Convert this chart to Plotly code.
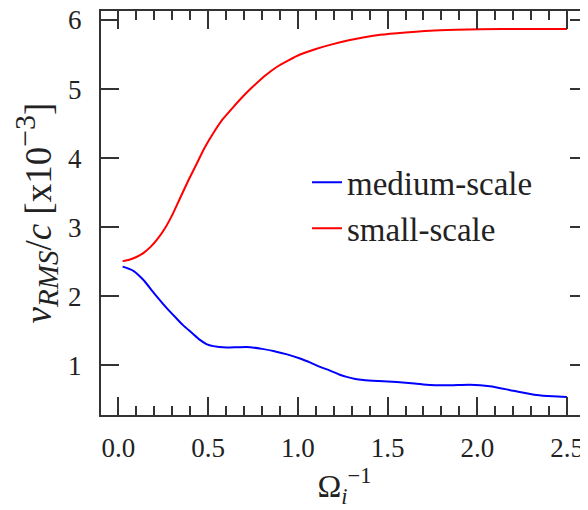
import plotly.graph_objects as go

# Data
x_small = [0.023, 0.06, 0.1, 0.14, 0.18, 0.22, 0.26, 0.30, 0.343, 0.39, 0.436, 0.48, 0.528, 0.58, 0.64, 0.70, 0.751, 0.82, 0.882, 0.95, 1.012, 1.1, 1.179, 1.29, 1.37, 1.458, 1.6, 1.736, 1.88, 2.015, 2.25, 2.5]
y_small = [2.51, 2.53, 2.57, 2.63, 2.72, 2.84, 2.99, 3.18, 3.42, 3.68, 3.92, 4.15, 4.36, 4.56, 4.74, 4.91, 5.04, 5.20, 5.32, 5.42, 5.50, 5.58, 5.64, 5.71, 5.75, 5.785, 5.82, 5.845, 5.858, 5.865, 5.87, 5.87]

x_medium = [0.023, 0.083, 0.138, 0.2, 0.269, 0.32, 0.361, 0.41, 0.454, 0.49, 0.528, 0.603, 0.67, 0.733, 0.80, 0.863, 0.94, 1.012, 1.07, 1.123, 1.179, 1.23, 1.272, 1.32, 1.365, 1.45, 1.551, 1.65, 1.736, 1.85, 1.959, 2.07, 2.2, 2.33, 2.42, 2.5]
y_medium = [2.43, 2.37, 2.24, 2.04, 1.83, 1.69, 1.58, 1.47, 1.37, 1.31, 1.28, 1.26, 1.265, 1.265, 1.24, 1.21, 1.16, 1.10, 1.04, 0.98, 0.925, 0.87, 0.835, 0.805, 0.79, 0.775, 0.76, 0.74, 0.718, 0.715, 0.722, 0.70, 0.635, 0.572, 0.553, 0.545]

x_ticks = [0.0, 0.5, 1.0, 1.5, 2.0, 2.5]
x_ticklabels = ["0.0", "0.5", "1.0", "1.5", "2.0", "2.5"]
y_ticks = [1, 2, 3, 4, 5, 6]

FONT = "Liberation Serif"
AX = "#333333"
TXT = "#222222"

fig = go.Figure()
fig.add_trace(go.Scatter(x=x_medium, y=y_medium, mode="lines", name="medium-scale",
                         line=dict(color="#0000ff", width=2, shape="spline", smoothing=0.6),
                         legendgroup="a"))
fig.add_trace(go.Scatter(x=x_small, y=y_small, mode="lines", name="small-scale",
                         line=dict(color="#ff0000", width=2, shape="spline", smoothing=0.6),
                         legendgroup="b"))

ytitle = ("<i>v</i><sub><span style='font-size:29px'><i>RMS</i></span></sub>"
          "/<i>c</i> [x10<sup><span style='font-size:30px'>−3</span></sup>]")

# page body has an 8px default margin; compensate so the plot lands where the reference has it
fig.update_layout(
    width=580, height=502,
    margin=dict(l=93, r=0, t=3, b=95),
    plot_bgcolor="white", paper_bgcolor="white",
    font=dict(family=FONT, size=27, color=TXT),
    showlegend=True,
    legend=dict(x=0.423, y=0.645, xanchor="left", yanchor="top",
                font=dict(family=FONT, size=33, color=TXT),
                bgcolor="rgba(0,0,0,0)", tracegroupgap=0),
    xaxis=dict(
        range=[-0.0975, 2.617], automargin=False,
        tickmode="array", tickvals=x_ticks, ticktext=x_ticklabels,
        tickfont=dict(family=FONT, size=27, color=TXT),
        ticklabeloverflow="allow",
        ticks="inside", ticklen=18, tickwidth=1.5, tickcolor=AX,
        minor=dict(ticks="inside", dtick=0.1, ticklen=9, tickwidth=1.5, tickcolor=AX, showgrid=False),
        showline=True, linecolor=AX, linewidth=2, mirror="allticks",
        showgrid=False, zeroline=False,
        ticklabelstandoff=8,
        title=dict(text="Ω<sub><i>i</i></sub><sup>−1</sup>", font=dict(family=FONT, size=32, color=TXT), standoff=2),
    ),
    yaxis=dict(
        range=[0.283, 6.13], automargin=False,
        tickmode="array", tickvals=y_ticks,
        tickfont=dict(family=FONT, size=27, color=TXT),
        ticklabeloverflow="allow",
        ticks="inside", ticklen=18, tickwidth=1.5, tickcolor=AX,
        showline=True, linecolor=AX, linewidth=2, mirror="allticks",
        showgrid=False, zeroline=False,
        ticklabelstandoff=12,
        title=dict(text=ytitle, font=dict(family=FONT, size=37, color=TXT), standoff=8),
    ),
)

fig.write_html("out.html")
